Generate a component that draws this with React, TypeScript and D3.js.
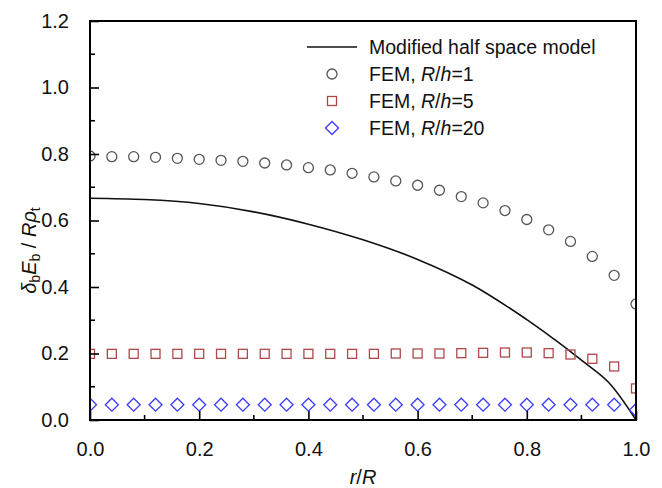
import React, { useEffect, useRef } from 'react';
import * as d3 from 'd3';

// r/R positions of the FEM nodes
const rNodes = [
  0, 0.04, 0.08, 0.12, 0.16, 0.2, 0.24, 0.28, 0.32, 0.36, 0.4, 0.44, 0.48,
  0.52, 0.56, 0.6, 0.64, 0.68, 0.72, 0.76, 0.8, 0.84, 0.88, 0.92, 0.96, 1.0,
];

// FEM, R/h=1
const femRh1 = [
  0.794, 0.792, 0.792, 0.79, 0.787, 0.784, 0.781, 0.778, 0.773, 0.767, 0.759,
  0.752, 0.742, 0.731, 0.719, 0.706, 0.691, 0.672, 0.653, 0.63, 0.603, 0.572,
  0.537, 0.492, 0.435, 0.349,
];

// FEM, R/h=5
const femRh5 = [
  0.199, 0.199, 0.199, 0.199, 0.199, 0.199, 0.199, 0.199, 0.199, 0.199, 0.199,
  0.199, 0.199, 0.199, 0.2, 0.2, 0.2, 0.201, 0.202, 0.203, 0.203, 0.201, 0.197,
  0.184, 0.161, 0.095,
];

// FEM, R/h=20
const femRh20 = [
  0.046, 0.046, 0.046, 0.046, 0.046, 0.046, 0.046, 0.046, 0.046, 0.046, 0.046,
  0.046, 0.046, 0.046, 0.046, 0.046, 0.046, 0.046, 0.046, 0.046, 0.046, 0.046,
  0.046, 0.046, 0.046, 0.03,
];

// Modified half space model
const modelR = [0, 0.1, 0.2, 0.3, 0.4, 0.5, 0.6, 0.7, 0.8, 0.85, 0.9, 0.95, 1.0];
const modelV = [0.667, 0.663, 0.651, 0.626, 0.589, 0.542, 0.483, 0.406, 0.302, 0.243, 0.18, 0.113, 0.0];

const xTicks = [0, 0.2, 0.4, 0.6, 0.8, 1.0];
const yTicks = [0, 0.2, 0.4, 0.6, 0.8, 1.0, 1.2];

const legendLabels = ['Modified half space model', 'FEM, ', 'FEM, ', 'FEM, '];
const legendRh = ['', '1', '5', '20'];

const Chart = () => {
  const svgRef = useRef<SVGSVGElement>(null);

  useEffect(() => {
    const width = 662;
    const height = 488;
    const margin = { top: 21, right: 26, bottom: 68, left: 90 };
    const innerW = width - margin.left - margin.right;
    const innerH = height - margin.top - margin.bottom;
    const font = 'Arial, "Liberation Sans", Helvetica, sans-serif';

    const svg = d3.select(svgRef.current);
    svg.selectAll('*').remove();

    const x = d3.scaleLinear().domain([0, 1]).range([0, innerW]);
    const y = d3.scaleLinear().domain([0, 1.2]).range([innerH, 0]);

    svg
      .append('defs')
      .append('clipPath')
      .attr('id', 'plot-clip')
      .append('rect')
      .attr('width', innerW)
      .attr('height', innerH);

    const g = svg.append('g').attr('transform', `translate(${margin.left},${margin.top})`);
    const plot = g.append('g').attr('clip-path', 'url(#plot-clip)');

    // model curve
    const line = d3
      .line<number>()
      .x((d, i) => x(modelR[i]))
      .y((d) => y(d))
      .curve(d3.curveCatmullRom.alpha(0.5));
    plot
      .append('path')
      .attr('d', line(modelV))
      .attr('fill', 'none')
      .attr('stroke', '#111')
      .attr('stroke-width', 1.6);

    // R/h=1 circles
    plot
      .selectAll('circle.rh1')
      .data(femRh1)
      .enter()
      .append('circle')
      .attr('class', 'rh1')
      .attr('cx', (d, i) => x(rNodes[i]))
      .attr('cy', (d) => y(d))
      .attr('r', 5)
      .attr('fill', 'none')
      .attr('stroke', '#555')
      .attr('stroke-width', 1.3);

    // R/h=5 squares
    const sq = 9;
    plot
      .selectAll('rect.rh5')
      .data(femRh5)
      .enter()
      .append('rect')
      .attr('class', 'rh5')
      .attr('x', (d, i) => x(rNodes[i]) - sq / 2)
      .attr('y', (d) => y(d) - sq / 2)
      .attr('width', sq)
      .attr('height', sq)
      .attr('fill', 'none')
      .attr('stroke', '#b04848')
      .attr('stroke-width', 1.3);

    // R/h=20 diamonds
    const dm = 6.5;
    const diamond = (cx: number, cy: number) =>
      `M${cx},${cy - dm}L${cx + dm},${cy}L${cx},${cy + dm}L${cx - dm},${cy}Z`;
    plot
      .selectAll('path.rh20')
      .data(femRh20)
      .enter()
      .append('path')
      .attr('class', 'rh20')
      .attr('d', (d, i) => diamond(x(rNodes[i]), y(d)))
      .attr('fill', 'none')
      .attr('stroke', '#3a3aff')
      .attr('stroke-width', 1.3);

    // axes: ticks inward, minor ticks between majors
    const xAxis = d3
      .axisBottom(x)
      .tickValues(xTicks)
      .tickSizeInner(-9)
      .tickSizeOuter(0)
      .tickPadding(22)
      .tickFormat(d3.format('.1f'));
    const xa = g.append('g').attr('transform', `translate(0,${innerH})`).call(xAxis);

    const yAxis = d3
      .axisLeft(y)
      .tickValues(yTicks)
      .tickSizeInner(-9)
      .tickSizeOuter(0)
      .tickPadding(21)
      .tickFormat(d3.format('.1f'));
    const ya = g.append('g').call(yAxis);

    [xa, ya].forEach((a) => {
      a.select('.domain').remove();
      a.selectAll('line').attr('stroke', '#000').attr('stroke-width', 1.6);
      a.selectAll('text')
        .attr('font-family', font)
        .attr('font-size', 20)
        .attr('fill', '#111');
    });

    const minorX = d3.range(0.1, 1, 0.2);
    g.selectAll('line.minor-x')
      .data(minorX)
      .enter()
      .append('line')
      .attr('x1', (d) => x(d))
      .attr('x2', (d) => x(d))
      .attr('y1', innerH)
      .attr('y2', innerH - 5)
      .attr('stroke', '#000')
      .attr('stroke-width', 1.6);

    const minorY = d3.range(0.1, 1.2, 0.2);
    g.selectAll('line.minor-y')
      .data(minorY)
      .enter()
      .append('line')
      .attr('x1', 0)
      .attr('x2', 5)
      .attr('y1', (d) => y(d))
      .attr('y2', (d) => y(d))
      .attr('stroke', '#000')
      .attr('stroke-width', 1.6);

    // frame
    g.append('rect')
      .attr('width', innerW)
      .attr('height', innerH)
      .attr('fill', 'none')
      .attr('stroke', '#000')
      .attr('stroke-width', 2);

    // legend
    const lg = g.append('g').attr('transform', 'translate(217,26)');
    legendLabels.forEach((lab, i) => {
      const row = lg.append('g').attr('transform', `translate(0,${i * 27})`);
      if (i === 0) {
        row.append('line').attr('x1', 0).attr('x2', 50).attr('stroke', '#111').attr('stroke-width', 1.6);
      } else if (i === 1) {
        row.append('circle').attr('cx', 25).attr('r', 5).attr('fill', 'none').attr('stroke', '#555').attr('stroke-width', 1.3);
      } else if (i === 2) {
        row.append('rect').attr('x', 25 - sq / 2).attr('y', -sq / 2).attr('width', sq).attr('height', sq)
          .attr('fill', 'none').attr('stroke', '#b04848').attr('stroke-width', 1.3);
      } else {
        row.append('path').attr('d', diamond(25, 0)).attr('fill', 'none').attr('stroke', '#3a3aff').attr('stroke-width', 1.3);
      }
      const t = row
        .append('text')
        .attr('x', 62)
        .attr('y', 7)
        .attr('font-family', font)
        .attr('font-size', 19.5)
        .attr('fill', '#111')
        .text(lab);
      if (legendRh[i]) {
        t.append('tspan').attr('font-style', 'italic').text('R');
        t.append('tspan').text('/');
        t.append('tspan').attr('font-style', 'italic').text('h');
        t.append('tspan').text('=' + legendRh[i]);
      }
    });

    // x label
    const xl = svg
      .append('text')
      .attr('x', margin.left + innerW / 2)
      .attr('y', 484)
      .attr('text-anchor', 'middle')
      .attr('font-family', font)
      .attr('font-size', 20)
      .attr('fill', '#111');
    xl.append('tspan').attr('font-style', 'italic').text('r');
    xl.append('tspan').text('/');
    xl.append('tspan').attr('font-style', 'italic').text('R');

    // y label
    const yl = svg
      .append('text')
      .attr('transform', `translate(36,${margin.top + innerH / 2 + 30}) rotate(-90)`)
      .attr('text-anchor', 'middle')
      .attr('font-family', font)
      .attr('font-size', 20)
      .attr('fill', '#111');
    const part = (txt: string, italic: boolean, sub: boolean) => {
      const s = yl.append('tspan').text(txt);
      if (italic) s.attr('font-style', 'italic');
      if (sub) s.attr('font-size', 14).attr('baseline-shift', '-25%');
    };
    part('δ', true, false);
    part('b', false, true);
    part('E', true, false);
    part('b', false, true);
    part(' / ', false, false);
    part('R', true, false);
    part('ρ', true, false);
    part('t', false, true);
  }, []);

  return (
    <svg
      ref={svgRef}
      width={662}
      height={488}
      style={{ position: 'absolute', left: 0, top: 0, background: '#fff' }}
    />
  );
};

export default function App() {
  return <Chart />;
}
